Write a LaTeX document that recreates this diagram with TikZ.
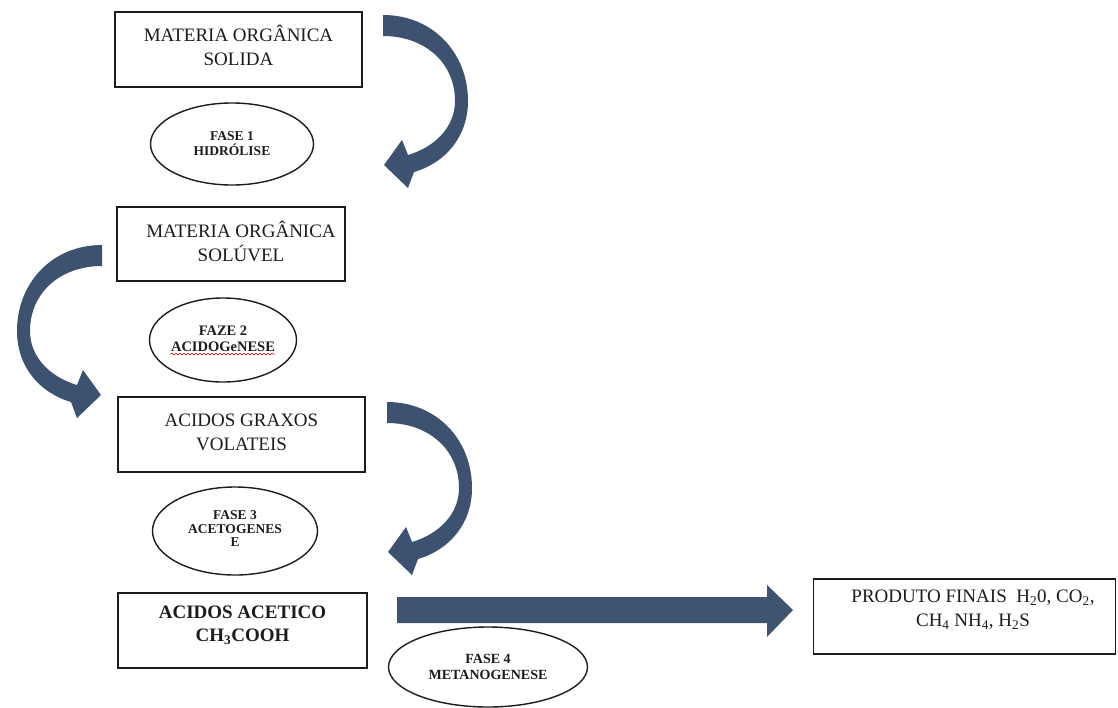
\documentclass[tikz,border=0pt]{standalone}
\usepackage{fontspec}
\setmainfont{Liberation Serif}
\usetikzlibrary{shapes.geometric,decorations.pathmorphing}
\definecolor{arrowblue}{RGB}{60,82,112}
\definecolor{ink}{RGB}{28,28,28}

% curved block arrow, tail at the local origin, bulging to the right
\newcommand\bendarrow{%
  \fill[arrowblue] (0,0) .. controls (50,0) and (85,38) .. (85,86)
    .. controls (85,122) and (62,148) .. (31,157) -- (25,173) -- (1,150)
    -- (19,125) -- (25,140)
    .. controls (52,132) and (72,112) .. (72,86)
    .. controls (72,48) and (42,21) .. (0,21) -- cycle;}

\begin{document}
\begin{tikzpicture}[x=1pt,y=-1pt]
\tikzset{
  stagebox/.style={draw=ink,line width=1.3pt,inner sep=0pt},
  phase/.style={ellipse,draw=ink,line width=1.4pt,inner sep=0pt},
  boxtext/.style={align=center,font=\fontsize{19}{24}\selectfont,text=ink,inner sep=0pt},
  phasetext/.style={align=center,font=\fontsize{13.5}{15}\selectfont\bfseries,text=ink,inner sep=0pt},
}
\useasboundingbox (0,0) rectangle (1118,707);
\fill[white] (0,0) rectangle (1118,707);

% stage boxes
\node[stagebox,minimum width=247pt,minimum height=75pt] (b1) at (238.5,49.5) {};
\node[boxtext] (t1) at (238.5,45) {MATERIA ORGÂNICA\\SOLIDA};
\node[stagebox,minimum width=228pt,minimum height=74pt] (b2) at (231,244) {};
\node[boxtext] (t2) at (241,241) {MATERIA ORGÂNICA\\SOLÚVEL};
\node[stagebox,minimum width=247pt,minimum height=75pt] (b3) at (241.5,434.5) {};
\node[boxtext] (t3) at (241.5,432) {ACIDOS GRAXOS\\VOLATEIS};
\node[stagebox,minimum width=249pt,minimum height=75pt] (b4) at (242.5,630.5) {};
\node[boxtext,font=\fontsize{19}{23}\selectfont\bfseries] (t4) at (242.5,625) {ACIDOS ACETICO\\CH\textsubscript{3}COOH};
\node[stagebox,minimum width=302pt,minimum height=75pt] (b5) at (964.5,616.5) {};
\node[boxtext,font=\fontsize{19}{24}\selectfont] (t5) at (973,610) {PRODUTO FINAIS\ \ H\textsubscript{2}0, CO\textsubscript{2},\\CH\textsubscript{4} NH\textsubscript{4}, H\textsubscript{2}S};

% phase ellipses
\node[phase,minimum width=163pt,minimum height=82pt] (e1) at (232,144) {};
\node[phasetext] (p1) at (232,144) {FASE 1\\HIDRÓLISE};
\node[phase,minimum width=147pt,minimum height=84pt] (e2) at (223,340) {};
\node[phasetext,font=\fontsize{14.5}{16}\selectfont\bfseries] (p2) at (223,339) {FAZE 2\\ACIDOGeNESE};
\node[phase,minimum width=165pt,minimum height=88pt] (e3) at (235,531) {};
\node[phasetext,font=\fontsize{13.5}{13.5}\selectfont\bfseries] (p3) at (235,529) {FASE 3\\ACETOGENES\\E};
\node[phase,minimum width=199pt,minimum height=80pt] (e4) at (488,667) {};
\node[phasetext,font=\fontsize{14}{16}\selectfont\bfseries] (p4) at (488,667) {FASE 4\\METANOGENESE};

% spell-check squiggle under the second phase name
\draw[red!85!black,line width=0.6pt,decorate,
      decoration={snake,amplitude=0.9pt,segment length=4pt}]
  ([yshift=-2pt]p2.south west) -- ([yshift=-2pt]p2.south east);

% curved block arrows between the stages
\coordinate (a1) at (383,15);
\coordinate (a2) at (102,245);
\coordinate (a3) at (387,402);
\begin{scope}[shift={(a1)}]\bendarrow\end{scope}
\begin{scope}[shift={(a2)},xscale=-1]\bendarrow\end{scope}
\begin{scope}[shift={(a3)}]\bendarrow\end{scope}

% straight block arrow towards the final products
\coordinate (s0) at (397,610);
\coordinate (s1) at (793,610);
\fill[arrowblue!95!gray] ([yshift=13pt]s0) -- ([xshift=-26pt,yshift=13pt]s1)
  -- ([xshift=-26pt,yshift=25pt]s1) -- (s1) -- ([xshift=-26pt,yshift=-27pt]s1)
  -- ([xshift=-26pt,yshift=-13pt]s1) -- ([yshift=-13pt]s0) -- cycle;
\end{tikzpicture}
\end{document}
